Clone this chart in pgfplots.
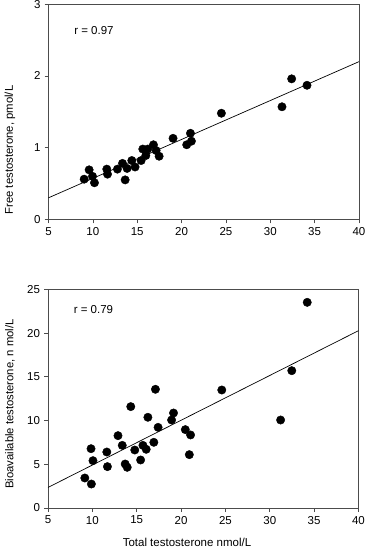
\documentclass[border=0pt]{standalone}
\usepackage{pgfplots}
\pgfplotsset{compat=1.18}
\usepackage{fontspec}
\setmainfont{Liberation Sans}
\begin{document}
\fontsize{11.5}{13}\selectfont
\begin{tikzpicture}
\useasboundingbox (0pt,0pt) rectangle (365pt,-549pt);
\pgfplotsset{
  myax/.style={
    scale only axis,
    xmin=5, xmax=40,
    xtick={5,10,...,40},
    tick align=outside,
    tick pos=left,
    major tick length=4pt,
    axis line style={black!70, line width=0.6pt},
    tick style={black!70, line width=0.6pt},
    ticklabel style={font=\fontsize{11.5}{13}\selectfont},
    /pgf/number format/assume math mode=true,
    clip=false,
  },
}
% Top panel
\begin{axis}[myax,
  at={(48.5pt,-219.3pt)}, anchor=south west,
  width=310.5pt, height=215pt,
  ymin=0, ymax=3, ytick={0,1,2,3},
  yticklabels={0,1,2,\raisebox{-1.5pt}{3}},
]
\addplot[only marks, mark=*, mark size=4.2pt, black] coordinates {
(9.02,0.56) (9.58,0.69) (9.96,0.60) (10.18,0.51) (11.57,0.70) (11.65,0.63)
(12.77,0.70) (13.34,0.78) (13.64,0.55) (13.86,0.71) (14.39,0.82) (14.76,0.73)
(15.44,0.82) (15.63,0.98) (15.97,0.89) (16.19,0.98) (16.83,1.04) (17.13,0.96)
(17.47,0.88) (19.04,1.13) (20.58,1.04) (21.00,1.20) (21.11,1.09) (24.49,1.48)
(31.32,1.57) (32.41,1.96) (34.14,1.87)
};
\addplot[black, line width=0.7pt] coordinates {(5,0.30) (40,2.20)};
\node[anchor=west] at (axis cs:7.45,2.64) {r = 0.97};
\end{axis}
\node[rotate=90, font=\fontsize{11.3}{13}\selectfont] at (10pt,-150pt) {Free testosterone, pmol/L};
% Bottom panel
\begin{axis}[myax,
  at={(48pt,-508pt)}, anchor=south west,
  width=310.5pt, height=218.7pt,
  ymin=0, ymax=25, ytick={0,5,...,25},
]
\addplot[only marks, mark=*, mark size=4.2pt, black] coordinates {
(9.15,3.43) (9.85,6.78) (10.07,5.41) (9.89,2.74) (11.63,6.40) (11.70,4.73)
(12.89,8.27) (13.37,7.16) (13.70,5.03) (13.93,4.65) (14.33,11.59) (14.78,6.63)
(15.44,5.49) (15.70,7.16) (16.07,6.71) (16.26,10.37) (16.93,7.51) (17.11,13.57)
(17.41,9.22) (18.93,10.06) (19.15,10.86) (20.48,8.96) (21.07,8.35) (20.93,6.10)
(24.59,13.49) (31.22,10.06) (32.48,15.70) (34.22,23.51)
};
\addplot[black, line width=0.7pt] coordinates {(5,2.35) (40,20.27)};
\node[anchor=west] at (axis cs:7.45,22.7) {r = 0.79};
\end{axis}
\node[rotate=90, font=\fontsize{11.3}{13}\selectfont] at (10pt,-404pt) {Bioavailable testosterone, n mol/L};
\node[font=\fontsize{11.5}{13}\selectfont] at (187pt,-542pt) {Total testosterone nmol/L};
\end{tikzpicture}
\end{document}
